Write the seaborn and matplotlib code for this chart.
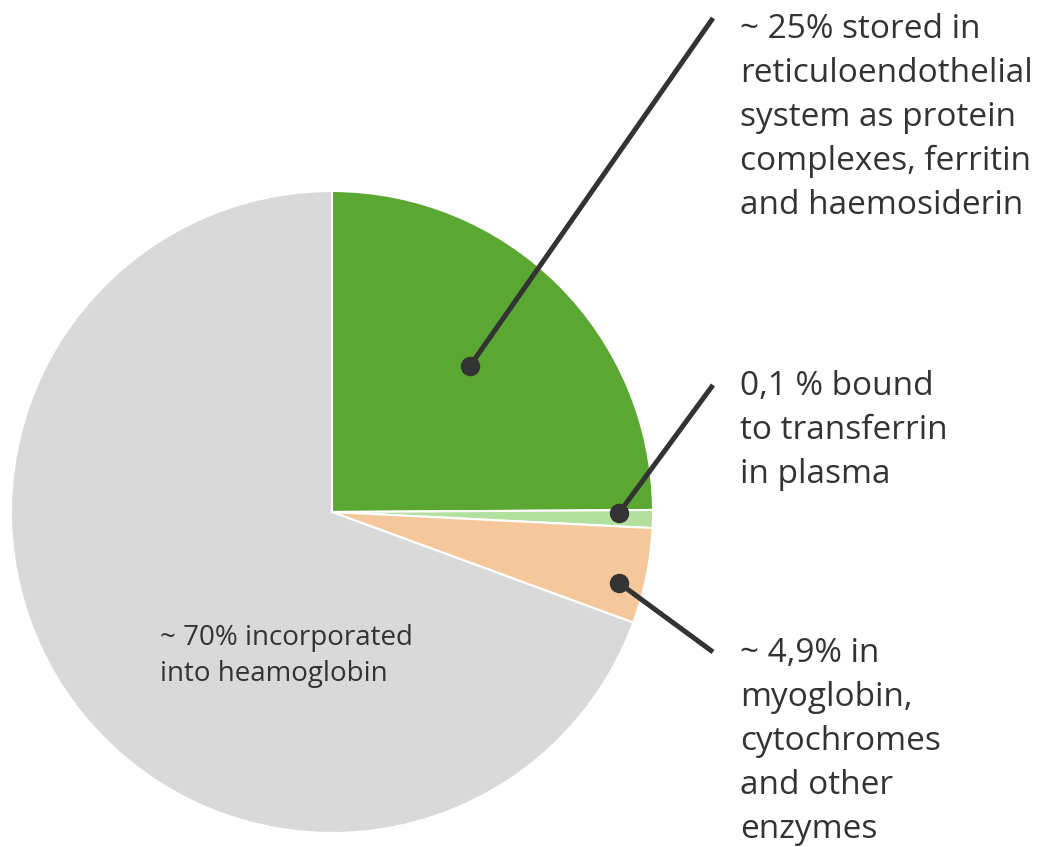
import matplotlib
matplotlib.use("Agg")
import matplotlib.pyplot as plt
import seaborn as sns

sns.set_theme(style="white")
plt.rcParams['font.family'] = ['Open Sans', 'DejaVu Sans']

# Data (drawn shares; labels carry the stated values)
segments = ["stored", "transferrin", "enzymes", "haemoglobin"]
shares = [24.9, 0.9, 4.8, 69.4]
colors = ["#5aa832", "#b3e09e", "#f5c89b", "#d9d9d9"]
label_texts = [
    ["~ 25% stored in", "reticuloendothelial", "system as protein",
     "complexes, ferritin", "and haemosiderin"],
    ["0,1 % bound", "to transferrin", "in plasma"],
    ["~ 4,9% in", "myoglobin,", "cytochromes", "and other", "enzymes"],
]
inner_text = ["~ 70% incorporated", "into heamoglobin"]

W, H = 1043, 847
fig = plt.figure(figsize=(W / 100, H / 100), dpi=100)
ax = fig.add_axes([0, 0, 1, 1])

def py(y):
    return H - y

cx, cy, r = 332, py(512), 321
ax.pie(shares, colors=colors, startangle=90, counterclock=False,
       center=(cx, cy), radius=r, frame=True,
       wedgeprops=dict(edgecolor="white", linewidth=1.5))
ax.set_xlim(0, W)
ax.set_ylim(0, H)
ax.set_aspect("equal")
ax.axis("off")

dark = "#333333"
dots = [(470, 366), (619, 513), (619, 583)]
ends = [(713, 18), (713, 385), (713, 652)]
for (dx, dy), (ex, ey) in zip(dots, ends):
    ax.plot([dx, ex], [py(dy), py(ey)], color=dark, lw=3.6, solid_capstyle="butt", zorder=5)
    ax.plot([dx], [py(dy)], "o", color=dark, ms=13, zorder=6)

first_baselines = [38, 395, 662]
step = 44
for lines, b0 in zip(label_texts, first_baselines):
    for i, t in enumerate(lines):
        ax.text(740, py(b0 + i * step), t, fontsize=24, color=dark,
                ha="left", va="baseline")

for i, t in enumerate(inner_text):
    ax.text(160, py(645 + i * 36), t, fontsize=20, color=dark,
            ha="left", va="baseline")

fig.savefig("out.png", dpi=100, facecolor="white")
